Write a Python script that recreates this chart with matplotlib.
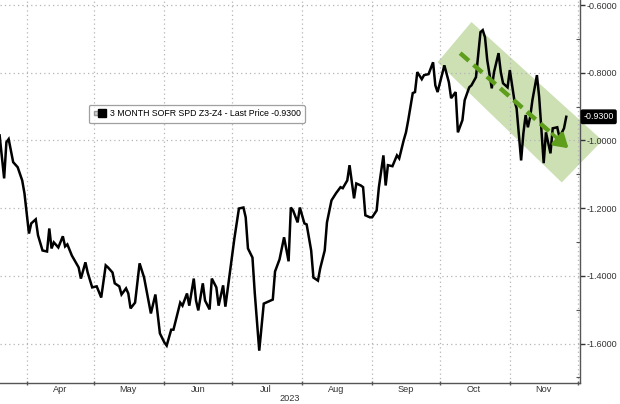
import matplotlib
matplotlib.use('Agg')
import matplotlib.pyplot as plt
import matplotlib.dates as mdates
import matplotlib.ticker as mticker
import matplotlib.transforms as mtransforms
from matplotlib.lines import Line2D
from matplotlib.legend_handler import HandlerTuple
from matplotlib.patches import Polygon
import pandas as pd

plt.rcParams['font.family'] = ['Liberation Sans', 'DejaVu Sans']

# ---------------- data ----------------
YEAR = 2023
dates = [
    '03-20', '03-22', '03-23', '03-24', '03-26', '03-28', '03-30', '03-31',
    '04-02', '04-03', '04-05', '04-06', '04-08', '04-10', '04-11', '04-12', '04-13', '04-15',
    '04-17', '04-18', '04-19', '04-21', '04-24', '04-25', '04-27', '04-28', '04-30',
    '05-02', '05-04', '05-06', '05-07', '05-09', '05-10', '05-12', '05-13', '05-15', '05-16',
    '05-17', '05-19', '05-21', '05-23', '05-26', '05-28', '05-30',
    '06-01', '06-02', '06-04', '06-05', '06-08', '06-09', '06-11', '06-12', '06-14', '06-15',
    '06-16', '06-18', '06-19', '06-21', '06-22', '06-24', '06-25', '06-27', '06-28', '06-30',
    '07-02', '07-04', '07-06', '07-07', '07-08', '07-10', '07-11', '07-13', '07-15', '07-16',
    '07-19', '07-20', '07-22', '07-24', '07-26', '07-27', '07-28', '07-30', '07-31',
    '08-02', '08-03', '08-05', '08-06', '08-08', '08-09', '08-11', '08-12', '08-14', '08-16',
    '08-18', '08-19', '08-21', '08-22', '08-24', '08-25', '08-27', '08-28', '08-29', '08-31',
    '09-01', '09-03', '09-04', '09-06', '09-07', '09-08', '09-10', '09-12', '09-13', '09-15',
    '09-16', '09-17', '09-19', '09-20', '09-21', '09-23', '09-24', '09-26', '09-28', '09-29', '09-30',
    '10-03', '10-05', '10-06', '10-08', '10-09', '10-11', '10-12', '10-14', '10-15', '10-17',
    '10-18', '10-19', '10-20', '10-21', '10-22', '10-24', '10-25', '10-27', '10-28', '10-29', '10-31',
    '11-01', '11-03', '11-04', '11-06', '11-07', '11-08', '11-09', '11-10', '11-11', '11-13',
    '11-14', '11-16', '11-17', '11-19', '11-20', '11-22', '11-23', '11-25', '11-26',
]
values = [
    -0.985, -1.112, -1.005, -0.996, -1.064, -1.079, -1.118, -1.156,
    -1.275, -1.245, -1.233, -1.280, -1.325, -1.328, -1.260, -1.319, -1.301, -1.316,
    -1.283, -1.313, -1.307, -1.340, -1.375, -1.408, -1.360, -1.390, -1.434,
    -1.431, -1.464, -1.369, -1.375, -1.390, -1.422, -1.431, -1.455, -1.437, -1.452,
    -1.496, -1.479, -1.363, -1.405, -1.511, -1.455, -1.570,
    -1.597, -1.606, -1.559, -1.559, -1.479, -1.488, -1.452, -1.488, -1.408, -1.473,
    -1.502, -1.422, -1.473, -1.499, -1.408, -1.434, -1.488, -1.428, -1.491, -1.390,
    -1.289, -1.201, -1.198, -1.227, -1.319, -1.346, -1.449, -1.621, -1.482, -1.479,
    -1.470, -1.387, -1.351, -1.286, -1.357, -1.198, -1.207, -1.242, -1.198,
    -1.245, -1.248, -1.325, -1.405, -1.414, -1.378, -1.325, -1.242, -1.177, -1.156,
    -1.138, -1.141, -1.118, -1.073, -1.171, -1.127, -1.133, -1.138, -1.221, -1.227,
    -1.227, -1.207, -1.138, -1.044, -1.133, -1.073, -1.076, -1.044, -1.053, -0.999,
    -0.976, -0.940, -0.860, -0.857, -0.798, -0.819, -0.807, -0.804, -0.769, -0.837, -0.857,
    -0.778, -0.828, -0.875, -0.857, -0.976, -0.940, -0.881, -0.843, -0.837, -0.813,
    -0.748, -0.680, -0.674, -0.695, -0.763, -0.846, -0.798, -0.742, -0.798, -0.831, -0.843,
    -0.792, -0.881, -0.905, -1.059, -0.979, -0.925, -0.961, -0.931, -0.881, -0.807,
    -0.872, -1.067, -0.976, -1.038, -0.964, -0.961, -0.991, -0.964, -0.930,
]
series_name = '3 MONTH SOFR SPD Z3-Z4'
last_price = -0.93
year_label = '2023'
yticks = [-0.6, -0.8, -1.0, -1.2, -1.4, -1.6]

# highlighted down-trend channel and arrow (annotation)
band_dates = ['2023-09-30', '2023-10-15', '2023-12-12', '2023-11-24']
band_values = [-0.769, -0.650, -1.000, -1.124]
trend_dates = ['2023-10-10', '2023-11-27']
trend_values = [-0.742, -1.023]

x_range = ['2023-03-20 04:00', '2023-12-02 02:00']
y_range = [-1.715, -0.585]

# ---------------- plot ----------------
dt = pd.to_datetime([f'{YEAR}-{d}' for d in dates])

fig = plt.figure(figsize=(6.2, 4.04), dpi=100)
ax = fig.add_axes([0, 21.5 / 404, 580 / 620, 382.5 / 404])

# channel
bx = mdates.date2num(pd.to_datetime(band_dates))
band = Polygon(list(zip(bx, band_values)), closed=True, facecolor='#c6dcaa',
               edgecolor='none', alpha=0.88, zorder=1, clip_on=False)
ax.add_patch(band)

line, = ax.plot(dt, values, color='black', lw=1.8, zorder=3, solid_joinstyle='miter')

# trend arrow
tx = pd.to_datetime(trend_dates)
tnum = mdates.date2num(tx)
frac = 0.85
mid_x = tnum[0] + (tnum[1] - tnum[0]) * frac
mid_y = trend_values[0] + (trend_values[1] - trend_values[0]) * frac
ax.plot([tnum[0], mid_x], [trend_values[0], mid_y], color='#5e9e1c', lw=3.2,
        linestyle=(0, (2.6, 1.4)), zorder=4, solid_capstyle='butt')
ax.annotate('', xy=(tnum[1], trend_values[1]), xytext=(mid_x, mid_y),
            arrowprops=dict(arrowstyle='-|>,head_length=0.8,head_width=0.5',
                            color='#5e9e1c', lw=2.5, shrinkA=0, shrinkB=0), zorder=4)

ax.set_xlim(pd.to_datetime(x_range[0]), pd.to_datetime(x_range[1]))
ax.set_ylim(*y_range)

# axes styling
for s in ['left', 'top']:
    ax.spines[s].set_visible(False)
for s in ['bottom', 'right']:
    ax.spines[s].set_color('#555555')
    ax.spines[s].set_linewidth(1.0)

ax.yaxis.tick_right()
ax.set_yticks(yticks)
ax.yaxis.set_major_formatter(mticker.FormatStrFormatter('%.4f'))
ax.yaxis.set_minor_locator(mticker.MultipleLocator(0.1))
ax.tick_params(axis='y', which='major', direction='out', length=3.5, width=1,
               color='#333333', labelsize=6.5, pad=1.2, labelcolor='#333333')
ax.tick_params(axis='y', which='minor', direction='in', length=3, width=0.8, color='#555555')

ax.xaxis.set_major_locator(mdates.MonthLocator())
ax.xaxis.set_major_formatter(mticker.NullFormatter())
ax.xaxis.set_minor_locator(mdates.MonthLocator(bymonthday=16))
ax.xaxis.set_minor_formatter(mdates.DateFormatter('%b'))
ax.tick_params(axis='x', which='major', direction='inout', length=3.5, width=1, color='#555555')
ax.tick_params(axis='x', which='minor', length=0, labelsize=6.6, pad=2.0, labelcolor='#333333')

ax.grid(which='major', axis='both', color='#b5b5b5', linestyle=(0, (1, 2.5)), linewidth=0.9)
ax.set_axisbelow('line')

ax.text(0.5, -0.043, year_label, transform=ax.transAxes, ha='center', va='center',
        fontsize=6.6, color='#333333')

# last price tag
trans = mtransforms.blended_transform_factory(ax.transAxes, ax.transData)
ax.text(1.006, last_price, f'{last_price:.4f}', transform=trans, ha='left', va='center',
        fontsize=6.4, color='white', zorder=6, clip_on=False,
        bbox=dict(boxstyle='round,pad=0.25,rounding_size=0.15', fc='black', ec='black'))

# legend
h_grey = Line2D([], [], marker='s', markersize=3.2, markerfacecolor='#d0d0d0',
                markeredgecolor='#999999', linestyle='none')
h_black = Line2D([], [], marker='s', markersize=6, color='black', linestyle='none')
leg = ax.legend([(h_grey, h_black)], [f'{series_name} - Last Price {last_price:.4f}'],
                handler_map={tuple: HandlerTuple(ndivide=None, pad=0.15)},
                loc='upper left', bbox_to_anchor=(0.153, 0.726), borderaxespad=0,
                fontsize=6.3, handlelength=1.3, handletextpad=0.6, borderpad=0.5,
                frameon=True, fancybox=True)
leg.get_frame().set_edgecolor('#888888')
leg.get_frame().set_linewidth(0.9)
leg.set_zorder(7)

fig.savefig('out.png', dpi=100)
